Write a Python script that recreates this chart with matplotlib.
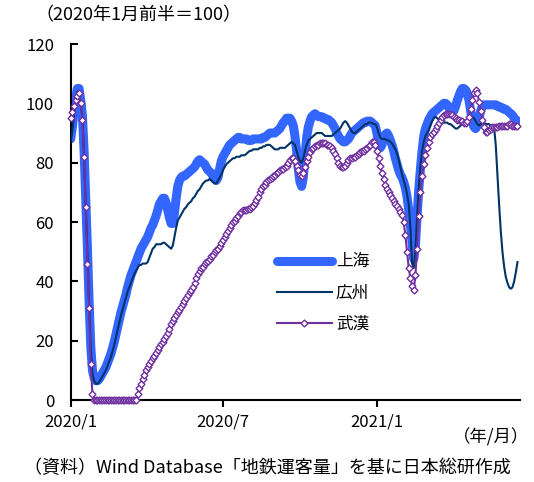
import matplotlib
matplotlib.use("Agg")
import matplotlib.pyplot as plt
import pandas as pd

plt.rcParams["font.family"] = ["Noto Sans CJK JP", "DejaVu Sans"]

# Metro ridership index, every 2 days from 2020-01-01 (first half of Jan 2020 = 100)
shanghai = [
    88, 92, 97, 102, 105, 105, 101, 96, 84, 68,
    51, 33, 18, 10, 7.5, 6.5, 6.5, 7, 8, 9,
    10, 11, 12.5, 14, 15.5, 17.5, 19.5, 22, 24.5, 27,
    29.5, 31.5, 33.5, 35.5, 38, 40, 42, 43.5, 45, 46.5,
    48, 49.5, 51, 52, 53, 54, 55, 56.5, 58, 59,
    60.5, 62, 64, 66, 67, 68, 68, 66.5, 64, 61.5,
    59.5, 59.5, 63, 68, 72, 74, 75, 75.5, 75.5, 76,
    76.5, 77, 77.5, 78, 78.5, 79.5, 80.5, 81, 80.5, 80,
    79.5, 78.5, 77.5, 77, 76.5, 75.5, 74.5, 74, 75, 78,
    80.5, 82, 83, 84, 85, 86, 86.5, 87, 87.5, 88,
    88.5, 88.5, 88, 88, 88, 88, 87.5, 87.5, 87.5, 88,
    88, 88, 88, 88, 88, 88.5, 88.5, 89, 89.5, 90,
    90, 90, 90, 90.5, 91, 91.5, 92.5, 93.5, 94, 95,
    95, 95, 94, 92.5, 89, 84, 78, 73.5, 72, 75,
    82, 88.5, 92, 94, 95.5, 96, 96.5, 96, 95.5, 95.5,
    95.5, 95, 95, 94.5, 94.5, 94, 93.5, 92.5, 91.5, 90,
    89, 88, 87.5, 87, 87, 87.5, 88, 89, 90, 90.5,
    91, 91.5, 92, 92.5, 93, 93.5, 93.5, 94, 94, 94,
    93.5, 93, 92.5, 90, 86.5, 85, 86, 88, 89.5, 90,
    89, 87.5, 86, 84, 81.5, 79.5, 77.5, 76, 75, 73.5,
    71.5, 68.5, 64, 59, 53, 47.5, 52, 62, 71, 78,
    84, 89, 91.5, 93, 94.5, 95.5, 96.5, 97, 97.5, 98,
    98.5, 99, 99.5, 100, 100, 99.5, 98.5, 97.5, 97, 97.5,
    99, 101, 102.5, 104, 105, 105, 104.5, 103.5, 101, 97.5,
    94, 92, 91.5, 92.5, 95, 97.5, 99, 99.5, 99.5, 99.5,
    99.5, 99.5, 99.5, 99.5, 99.5, 99, 99, 98.5, 98.5, 98,
    98, 97.5, 97, 96.5, 96, 95, 94.5, 94,
]

guangzhou = [
    87, 91, 96, 101, 104, 104, 100, 95, 82, 66,
    49, 32, 17, 9, 6.5, 5.5, 5.5, 6, 7, 8,
    9, 10, 11.5, 13, 14.5, 16.5, 18.5, 21, 23.5, 26,
    28.5, 30.5, 32.5, 34.5, 36.5, 38, 39.5, 41, 42.5, 43.5,
    44.5, 45.5, 45.5, 46, 46, 46, 46.5, 48, 49.5, 51,
    51.5, 52.5, 52.5, 52.5, 52.5, 53, 53, 52.5, 52, 51.5,
    51, 52, 55, 58, 60.5, 61.5, 62.5, 63.5, 64.5, 65,
    66, 66.5, 67, 68, 68.5, 69.5, 70.5, 71, 72, 73,
    73.5, 74, 74, 74.5, 74, 73.5, 73, 73, 74, 75,
    76, 77.5, 78.5, 79.5, 80, 80.5, 81, 81.5, 81.5, 82,
    82, 82, 82.5, 82.5, 82.5, 83, 83.5, 84, 84, 84.5,
    84.5, 84.5, 84.5, 85, 85, 85.5, 85.5, 86, 86, 86,
    85.5, 85, 84.5, 84.5, 84.5, 85, 85, 85, 85, 85.5,
    86, 86.5, 87, 86.5, 86, 84, 82, 80.5, 80, 81.5,
    84, 86, 87.5, 88, 88.5, 89, 89.5, 90, 90, 90,
    90, 89.5, 89, 89, 89, 89, 89, 89.5, 90, 90.5,
    91, 91.5, 92.5, 93.5, 94, 93.5, 92.5, 91.5, 90.5, 90,
    90, 90.5, 91, 91.5, 92, 92.5, 93, 93, 93.5, 93.5,
    93.5, 93, 93, 92, 90, 88.5, 88, 88, 88, 87.5,
    87.5, 87, 86.5, 85.5, 84.5, 83, 81, 78.5, 76, 74,
    72, 69.5, 66, 58, 46, 44.5, 50, 62, 72, 79,
    84, 87, 89, 90, 91, 92.5, 94, 95, 95.5, 95,
    94.5, 94, 93.5, 93.5, 93.5, 93.5, 93, 93, 92.5, 92,
    91.5, 91.5, 92, 92.5, 93, 93, 93.5, 94, 94.5, 95,
    95.5, 95, 94, 93, 92.5, 93, 93.5, 93.5, 93, 93,
    93, 92.5, 92.5, 92, 86, 76, 66, 57, 50, 45,
    41.5, 39.5, 38, 37.5, 38, 40, 43, 46.5,
]

wuhan = [
    95, 97, 99, 101, 102.5, 103.5, 100, 94.5, 82, 65,
    46, 31, 12, 2, 0, 0, 0, 0, 0, 0,
    0, 0, 0, 0, 0, 0, 0, 0, 0, 0,
    0, 0, 0, 0, 0, 0, 0, 0, 0, 0,
    2, 4, 5.5, 7, 8.5, 10, 11, 12, 13, 14,
    15, 16, 17, 18, 19, 19.5, 20.5, 21.5, 22.5, 24,
    25.5, 26.5, 27.5, 28.5, 29.5, 30.5, 31.5, 32.5, 33.5, 34.5,
    35.5, 36.5, 37, 38, 39.5, 41, 42.5, 43.5, 44.5, 45,
    46, 46.5, 47, 47.5, 48.5, 49, 50, 50.5, 51, 52,
    53, 54, 55, 56, 57, 58, 59, 60, 60.5, 61.5,
    62, 63, 63.5, 64, 64, 64, 64.5, 64.5, 65, 65.5,
    66.5, 67.5, 68.5, 70, 71, 72, 72.5, 73.5, 74, 74.5,
    75, 75.5, 76, 76.5, 77, 77.5, 78, 78, 78.5, 79,
    80, 81, 81.5, 81.5, 80.5, 79, 77.5, 76, 75.5, 76.5,
    78.5, 80.5, 82, 83.5, 84.5, 85, 85.5, 86, 86, 86.5,
    86.5, 86.5, 86.5, 86, 86, 85.5, 85, 84, 83, 81.5,
    80, 79, 78.5, 78.5, 79, 80, 81, 81.5, 81.5, 82,
    82, 82.5, 83, 83.5, 84, 84, 84.5, 85, 85.5, 86,
    87, 87, 86, 84, 81.5, 79, 76.5, 74.5, 72.5, 71,
    70, 69, 68, 67, 66, 65.5, 64.5, 63.5, 62.5, 60,
    55.5, 50, 44.5, 41, 38.5, 37, 42, 51, 62, 70,
    75.5, 79.5, 82.5, 85, 87, 88.5, 89.5, 90.5, 91.5, 92.5,
    93.5, 94.5, 95.5, 96, 96.5, 96.5, 96.5, 96.5, 96, 95.5,
    95, 94.5, 94.5, 94, 94, 93.5, 93.5, 94, 95.5, 98,
    101, 103.5, 104.5, 103.5, 100.5, 97.5, 94.5, 92, 90.5, 90.5,
    91, 91.5, 92, 92, 92, 92, 92.5, 92.5, 92.5, 92.5,
    92.5, 92.5, 93, 93, 92.5, 92.5, 92.5, 92.5,
]

dates = pd.date_range("2020-01-01", periods=len(shanghai), freq="2D")

tick_dates = pd.to_datetime(["2020-01-01", "2020-07-01", "2021-01-01"])
tick_labels = ["2020/1", "2020/7", "2021/1"]
y_ticks = [0, 20, 40, 60, 80, 100, 120]

fig = plt.figure(figsize=(5.34, 4.82), dpi=100)
ax = fig.add_axes([0.1324, 0.1701, 0.8414, 0.7386])

ax.plot(dates, shanghai, color="#3366FF", lw=6.5, solid_capstyle="round",
        solid_joinstyle="round", label="上海", zorder=2)
ax.plot(dates, guangzhou, color="#003366", lw=1.5, label="広州", zorder=3)
ax.plot(dates, wuhan, color="#7030A0", lw=1.5, marker="D", ms=3.5,
        mfc="white", mec="#7030A0", mew=1.0, label="武漢", zorder=4,
        clip_on=False)

ax.set_ylim(0, 120)
ax.set_yticks(y_ticks)
ax.set_xlim(pd.Timestamp("2020-01-01"), pd.Timestamp("2021-06-21"))
ax.set_xticks(tick_dates)
ax.set_xticklabels(tick_labels)

for side in ("top", "right"):
    ax.spines[side].set_visible(False)
for side in ("left", "bottom"):
    ax.spines[side].set_linewidth(1.5)
    ax.spines[side].set_color("black")

ax.tick_params(axis="y", direction="in", length=5, width=1.5, pad=12,
               labelsize=12)
ax.tick_params(axis="x", direction="out", length=5, width=1.5, pad=5,
               labelsize=12)

ax.legend(loc="upper left", bbox_to_anchor=(0.4585, 0.412), frameon=False,
          fontsize=12, handlelength=3.3, handletextpad=0.25,
          labelspacing=0.85, borderpad=0, borderaxespad=0)

fig.text(138 / 534, 1 - 15 / 482, "（2020年1月前半＝100）", fontsize=13,
         ha="center", va="center")
fig.text(491 / 534, 1 - 437 / 482, "（年/月）", fontsize=12.5,
         ha="center", va="center")
fig.text(267 / 534, 1 - 468 / 482,
         "（資料）Wind Database「地鉄運客量」を基に日本総研作成",
         fontsize=13, ha="center", va="center")

fig.savefig("out.png", dpi=100)
